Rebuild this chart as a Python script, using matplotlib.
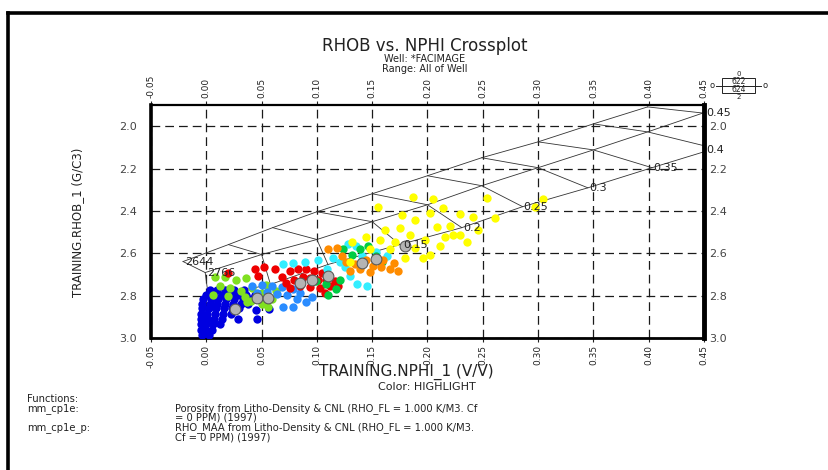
import matplotlib
matplotlib.use('Agg')
import matplotlib.pyplot as plt
from matplotlib.lines import Line2D
from matplotlib.patches import Rectangle
from matplotlib.transforms import ScaledTranslation

plt.rcParams['font.family'] = ['DejaVu Sans', 'Noto Sans']

# chart overlay: porosity levels and the three matrix lines (NPHI, RHOB)
phi_levels = [0.0, 0.05, 0.10, 0.15, 0.20, 0.25, 0.30, 0.35, 0.40, 0.45]
sand_nphi = [-0.021, 0.020, 0.060, 0.100, 0.150, 0.200, 0.249, 0.300, 0.350, 0.399]
sand_rhob = [2.639, 2.559, 2.479, 2.404, 2.319, 2.234, 2.149, 2.074, 1.989, 1.909]
lime_nphi = [-0.001, 0.050, 0.100, 0.150, 0.200, 0.249, 0.300, 0.350, 0.399, 0.449]
lime_rhob = [2.691, 2.606, 2.535, 2.451, 2.371, 2.281, 2.196, 2.112, 2.027, 1.938]
dolo_nphi = [0.002, 0.058, 0.110, 0.175, 0.231, 0.286, 0.345, 0.403, 0.460]
dolo_rhob = [2.808, 2.747, 2.653, 2.559, 2.479, 2.380, 2.291, 2.196, 2.105]

chart_labels = ['2644', '2766', '0.15', '0.2', '0.25', '0.3', '0.35', '0.4', '0.45']
chart_label_x = [-0.019, 0.001, 0.178, 0.232, 0.287, 0.346, 0.404, 0.452, 0.452]
chart_label_y = [2.639, 2.691, 2.559, 2.479, 2.380, 2.291, 2.196, 2.112, 1.938]

# highlighted data points, one pair of lists per colour
blue_nphi = [0.003, 0.010, 0.017, 0.025, 0.034,
             0.000, 0.007, 0.014, 0.021, 0.028, 0.036, 0.044, 0.050,
             -0.003, 0.004, 0.011, 0.018, 0.025, 0.033, 0.040, 0.047,
             -0.004, 0.003, 0.010, 0.017, 0.024, 0.031, 0.038,
             -0.004, 0.002, 0.009, 0.016, 0.023, 0.030, 0.045, 0.057,
             -0.005, 0.001, 0.008, 0.015, 0.022,
             -0.005, 0.001, 0.007, 0.014, 0.029,
             -0.005, 0.000, 0.006, 0.012,
             -0.005, 0.000, 0.005,
             -0.004, 0.002, 0.046]
blue_rhob = [2.775, 2.775, 2.775, 2.775, 2.775,
             2.795, 2.795, 2.795, 2.795, 2.795, 2.795, 2.795, 2.795,
             2.815, 2.815, 2.815, 2.815, 2.815, 2.815, 2.815, 2.815,
             2.840, 2.840, 2.840, 2.840, 2.840, 2.840, 2.840,
             2.860, 2.860, 2.860, 2.860, 2.860, 2.860, 2.870, 2.862,
             2.885, 2.885, 2.885, 2.885, 2.885,
             2.910, 2.910, 2.910, 2.910, 2.910,
             2.935, 2.935, 2.935, 2.935,
             2.960, 2.960, 2.960,
             2.985, 2.985, 2.912]

lgreen_nphi = [0.008, 0.017, 0.027, 0.036, 0.012, 0.021, 0.031, 0.041, 0.050, 0.006,
               0.040, 0.050, 0.059, 0.063, 0.054, 0.035, 0.020, 0.056, 0.037]
lgreen_rhob = [2.714, 2.714, 2.728, 2.719, 2.756, 2.766, 2.780, 2.766, 2.789, 2.799,
               2.827, 2.841, 2.818, 2.780, 2.752, 2.808, 2.804, 2.855, 2.832]

mblue_nphi = [0.041, 0.050, 0.059, 0.068, 0.046, 0.055, 0.064, 0.073, 0.078, 0.085,
              0.078, 0.090, 0.069, 0.082, 0.096]
mblue_rhob = [2.756, 2.752, 2.756, 2.761, 2.789, 2.785, 2.794, 2.799, 2.771, 2.789,
              2.855, 2.832, 2.855, 2.818, 2.808]

red_nphi = [0.068, 0.076, 0.083, 0.090, 0.097, 0.105, 0.072, 0.079, 0.087, 0.094,
            0.101, 0.108, 0.116, 0.076, 0.085, 0.094, 0.103, 0.112, 0.107, 0.119,
            0.044, 0.052, 0.062, 0.047, 0.020]
red_rhob = [2.714, 2.686, 2.676, 2.676, 2.686, 2.695, 2.742, 2.724, 2.714, 2.719,
            2.728, 2.724, 2.733, 2.766, 2.756, 2.761, 2.766, 2.756, 2.789, 2.756,
            2.676, 2.667, 2.676, 2.705, 2.691]

cyan_nphi = [0.069, 0.078, 0.089, 0.101, 0.115, 0.121, 0.128, 0.135, 0.109, 0.125,
             0.136, 0.145, 0.141, 0.153, 0.163, 0.130]
cyan_rhob = [2.653, 2.648, 2.639, 2.634, 2.620, 2.639, 2.554, 2.564, 2.676, 2.667,
             2.747, 2.756, 2.615, 2.592, 2.611, 2.709]

green_nphi = [0.124, 0.132, 0.139, 0.146, 0.153, 0.099, 0.108, 0.117, 0.110, 0.121, 0.159]
green_rhob = [2.582, 2.606, 2.582, 2.564, 2.611, 2.733, 2.747, 2.771, 2.799, 2.724, 2.639]

orange_nphi = [0.110, 0.118, 0.126, 0.134, 0.144, 0.151, 0.158, 0.166, 0.173, 0.139,
               0.130, 0.148, 0.123, 0.160, 0.170]
orange_rhob = [2.582, 2.573, 2.639, 2.653, 2.634, 2.658, 2.667, 2.676, 2.686, 2.676,
               2.686, 2.690, 2.611, 2.634, 2.648]

yellow_nphi = [0.155, 0.187, 0.205, 0.214, 0.241, 0.254, 0.261, 0.189, 0.175, 0.202,
               0.209, 0.223, 0.236, 0.211, 0.196, 0.220, 0.229, 0.198, 0.184, 0.171,
               0.157, 0.162, 0.144, 0.132, 0.148, 0.166, 0.189, 0.202, 0.180, 0.216,
               0.246, 0.177, 0.229, 0.304, 0.297, 0.130]
yellow_rhob = [2.380, 2.333, 2.342, 2.385, 2.427, 2.338, 2.432, 2.441, 2.479, 2.408,
               2.474, 2.512, 2.545, 2.568, 2.620, 2.470, 2.516, 2.535, 2.512, 2.549,
               2.535, 2.488, 2.521, 2.549, 2.582, 2.582, 2.573, 2.606, 2.620, 2.521,
               2.488, 2.418, 2.413, 2.342, 2.380, 2.640]

# grey circles (group centres)
centre_nphi = [0.180, 0.141, 0.153, 0.110, 0.096, 0.085, 0.046, 0.056, 0.026]
centre_rhob = [2.568, 2.644, 2.629, 2.709, 2.728, 2.738, 2.813, 2.813, 2.865]

x_ticks = [-0.05, 0.00, 0.05, 0.10, 0.15, 0.20, 0.25, 0.30, 0.35, 0.40, 0.45]
x_tick_labels = ['-0.05', '0.00', '0.05', '0.10', '0.15', '0.20', '0.25', '0.30', '0.35', '0.40', '0.45']
y_ticks = [2.0, 2.2, 2.4, 2.6, 2.8, 3.0]
y_tick_labels = ['2.0', '2.2', '2.4', '2.6', '2.8', '3.0']

function_lines = [
    ('Functions:', ''),
    ('mm_cp1e:', 'Porosity from Litho-Density & CNL (RHO_FL = 1.000 K/M3. Cf'),
    ('', '= 0 PPM) (1997)'),
    ('mm_cp1e_p:', 'RHO_MAA from Litho-Density & CNL (RHO_FL = 1.000 K/M3.'),
    ('', 'Cf = 0 PPM) (1997)'),
]

W, H = 829, 470
fig = plt.figure(figsize=(W / 100, H / 100), dpi=100)
fig.patch.set_facecolor('white')
ax = fig.add_axes([151 / W, 1 - 338 / H, 553 / W, 233 / H])

ax.set_xlim(-0.05, 0.45)
ax.set_ylim(3.0, 1.9)

txt = '#222222'
ax.set_xticks(x_ticks)
ax.set_xticklabels(x_tick_labels)
ax.set_yticks(y_ticks)
ax.set_yticklabels(y_tick_labels)
ax.tick_params(axis='x', top=True, labeltop=True, bottom=True, labelbottom=True,
               labelrotation=90, labelsize=6.5, length=3, pad=2, colors=txt)
ax.tick_params(axis='y', left=True, right=True, labelleft=True, labelright=True,
               labelsize=8, length=0, colors='#444444', pad=10)
# right-hand labels sit closer to the frame than the left ones
shift = ScaledTranslation(-6 / 72, 0, fig.dpi_scale_trans)
for tk in ax.yaxis.get_major_ticks():
    tk.label2.set_transform(tk.label2.get_transform() + shift)

ax.set_axisbelow(True)
ax.grid(True, color='#1a1a1a', linestyle=(0, (7, 4)), linewidth=0.9)

for side, lw in [('left', 2.6), ('top', 1.6), ('right', 3.5), ('bottom', 2.0)]:
    ax.spines[side].set_linewidth(lw)
    ax.spines[side].set_color('black')

# chart overlay lines
lc = '#333333'
ax.plot(sand_nphi, sand_rhob, color=lc, lw=0.6, zorder=2)
ax.plot(lime_nphi, lime_rhob, color=lc, lw=0.6, zorder=2)
ax.plot(dolo_nphi, dolo_rhob, color=lc, lw=0.6, zorder=2)
for i in range(len(phi_levels)):
    xs = [sand_nphi[i], lime_nphi[i]]
    ys = [sand_rhob[i], lime_rhob[i]]
    if i < len(dolo_nphi):
        xs.append(dolo_nphi[i])
        ys.append(dolo_rhob[i])
    ax.plot(xs, ys, color=lc, lw=0.6, zorder=2)

groups = [
    (blue_nphi, blue_rhob, '#0000e0'),
    (lgreen_nphi, lgreen_rhob, '#80e020'),
    (mblue_nphi, mblue_rhob, '#2a8cff'),
    (red_nphi, red_rhob, '#ee0000'),
    (cyan_nphi, cyan_rhob, '#33eeff'),
    (green_nphi, green_rhob, '#00cc44'),
    (orange_nphi, orange_rhob, '#ff8c00'),
    (yellow_nphi, yellow_rhob, '#ffff00'),
]
for xs, ys, c in groups:
    ax.scatter(xs, ys, s=36, color=c, linewidths=0, zorder=3)

ax.scatter(centre_nphi, centre_rhob, s=60, facecolor='#b4b4b4', edgecolor='#5a5a5a',
           linewidths=0.8, zorder=4)

for t, x, y in zip(chart_labels, chart_label_x, chart_label_y):
    ax.text(x, y, t, fontsize=8, color=txt, ha='left', va='center', zorder=5,
            clip_on=False)

# titles
fig.text(425 / W, 1 - 46 / H, 'RHOB vs. NPHI Crossplot', fontsize=12, color=txt,
         ha='center', va='center')
fig.text(425 / W, 1 - 59 / H, 'Well: *FACIMAGE', fontsize=7, color=txt,
         ha='center', va='center')
fig.text(425 / W, 1 - 69.5 / H, 'Range: All of Well', fontsize=7, color=txt,
         ha='center', va='center')

fig.text(406 / W, 1 - 372 / H, 'TRAINING.NPHI_1 (V/V)', fontsize=11, color=txt,
         ha='center', va='center')
fig.text(427 / W, 1 - 387 / H, 'Color: HIGHLIGHT', fontsize=8, color=txt,
         ha='center', va='center')
fig.text(78 / W, 1 - 222 / H, 'TRAINING.RHOB_1 (G/C3)', fontsize=8.5, color=txt,
         ha='center', va='center', rotation=90)

for k, (name, desc) in enumerate(function_lines):
    yy = 1 - (399 + 9.5 * k) / H
    if name:
        fig.text(27 / W, yy, name, fontsize=7.2, color=txt, ha='left', va='center')
    if desc:
        fig.text(175 / W, yy, desc, fontsize=7.2, color=txt, ha='left', va='center')

# small scale box at top right
fig.add_artist(Rectangle((722 / W, 1 - 93 / H), 33 / W, 15 / H, transform=fig.transFigure,
                         fill=False, edgecolor=txt, lw=0.7))
fig.add_artist(Line2D([722 / W, 755 / W], [1 - 85.5 / H, 1 - 85.5 / H],
                      transform=fig.transFigure, color=txt, lw=0.7))
fig.add_artist(Line2D([716 / W, 722 / W], [1 - 85.5 / H, 1 - 85.5 / H],
                      transform=fig.transFigure, color=txt, lw=0.7))
fig.add_artist(Line2D([755 / W, 761 / W], [1 - 85.5 / H, 1 - 85.5 / H],
                      transform=fig.transFigure, color=txt, lw=0.7))
fig.text(738.5 / W, 1 - 81.7 / H, '622', fontsize=5.5, color=txt, ha='center', va='center')
fig.text(738.5 / W, 1 - 89.3 / H, '624', fontsize=5.5, color=txt, ha='center', va='center')
fig.text(738.5 / W, 1 - 74 / H, '0', fontsize=5, color=txt, ha='center', va='center')
fig.text(738.5 / W, 1 - 97 / H, '2', fontsize=5, color=txt, ha='center', va='center')
fig.text(712 / W, 1 - 85.5 / H, 'o', fontsize=6, color=txt, ha='center', va='center')
fig.text(765 / W, 1 - 85.5 / H, 'o', fontsize=6, color=txt, ha='center', va='center')

# outer page border
fig.add_artist(Line2D([8 / W, 8 / W], [0, 1 - 13 / H], transform=fig.transFigure,
                      color='black', lw=2.6))
fig.add_artist(Line2D([8 / W, 1], [1 - 13 / H, 1 - 13 / H], transform=fig.transFigure,
                      color='black', lw=2.6))

fig.savefig('out.png', dpi=100)
